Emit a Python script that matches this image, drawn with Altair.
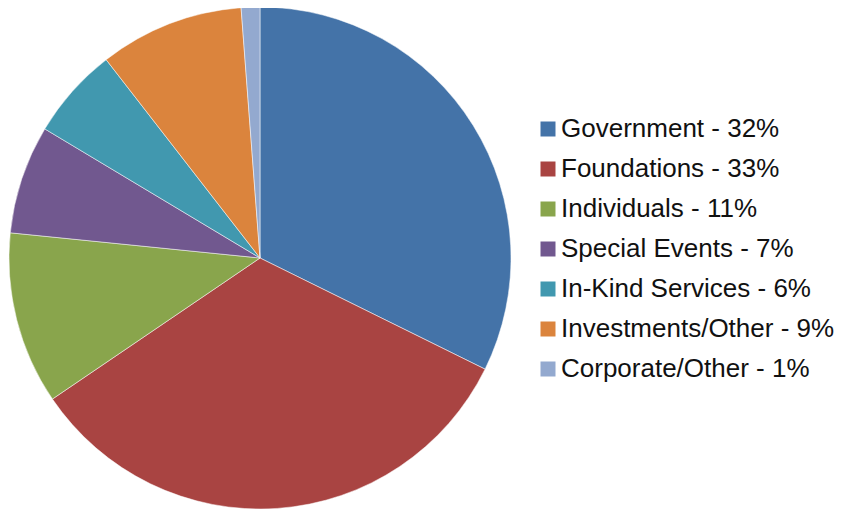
import altair as alt
import pandas as pd

categories = ["Government", "Foundations", "Individuals", "Special Events",
              "In-Kind Services", "Investments/Other", "Corporate/Other"]
pct_labels = ["32%", "33%", "11%", "7%", "6%", "9%", "1%"]
values = [32.3, 33.2, 11.1, 7.0, 5.9, 9.3, 1.2]
colors = ["#4473A8", "#A94442", "#89A54C", "#71588F", "#4198AF", "#DB843D", "#93A9CF"]

labels = [f"{c} - {p}" for c, p in zip(categories, pct_labels)]
df = pd.DataFrame({"label": labels, "value": values, "order": list(range(len(values)))})

chart = alt.Chart(df).mark_arc(radius=251, stroke="white", strokeWidth=0.5).encode(
    theta=alt.Theta("value:Q", stack=True),
    order=alt.Order("order:Q"),
    x=alt.value(252),
    y=alt.value(250),
    color=alt.Color(
        "label:N",
        scale=alt.Scale(domain=labels, range=colors),
        legend=alt.Legend(
            title=None,
            orient="none",
            legendX=527,
            legendY=108,
            symbolType="square",
            symbolSize=225,
            symbolStrokeWidth=0,
            labelFontSize=26,
            labelFont="Liberation Sans",
            labelColor="#111111",
            labelOffset=0,
            rowPadding=14,
            labelLimit=400,
        ),
    ),
).properties(
    width=835,
    height=501,
    padding=0,
    autosize=alt.AutoSizeParams(type="none"),
).configure_view(stroke=None)

chart.save("out.html", embed_options={"renderer": "svg", "actions": False})
